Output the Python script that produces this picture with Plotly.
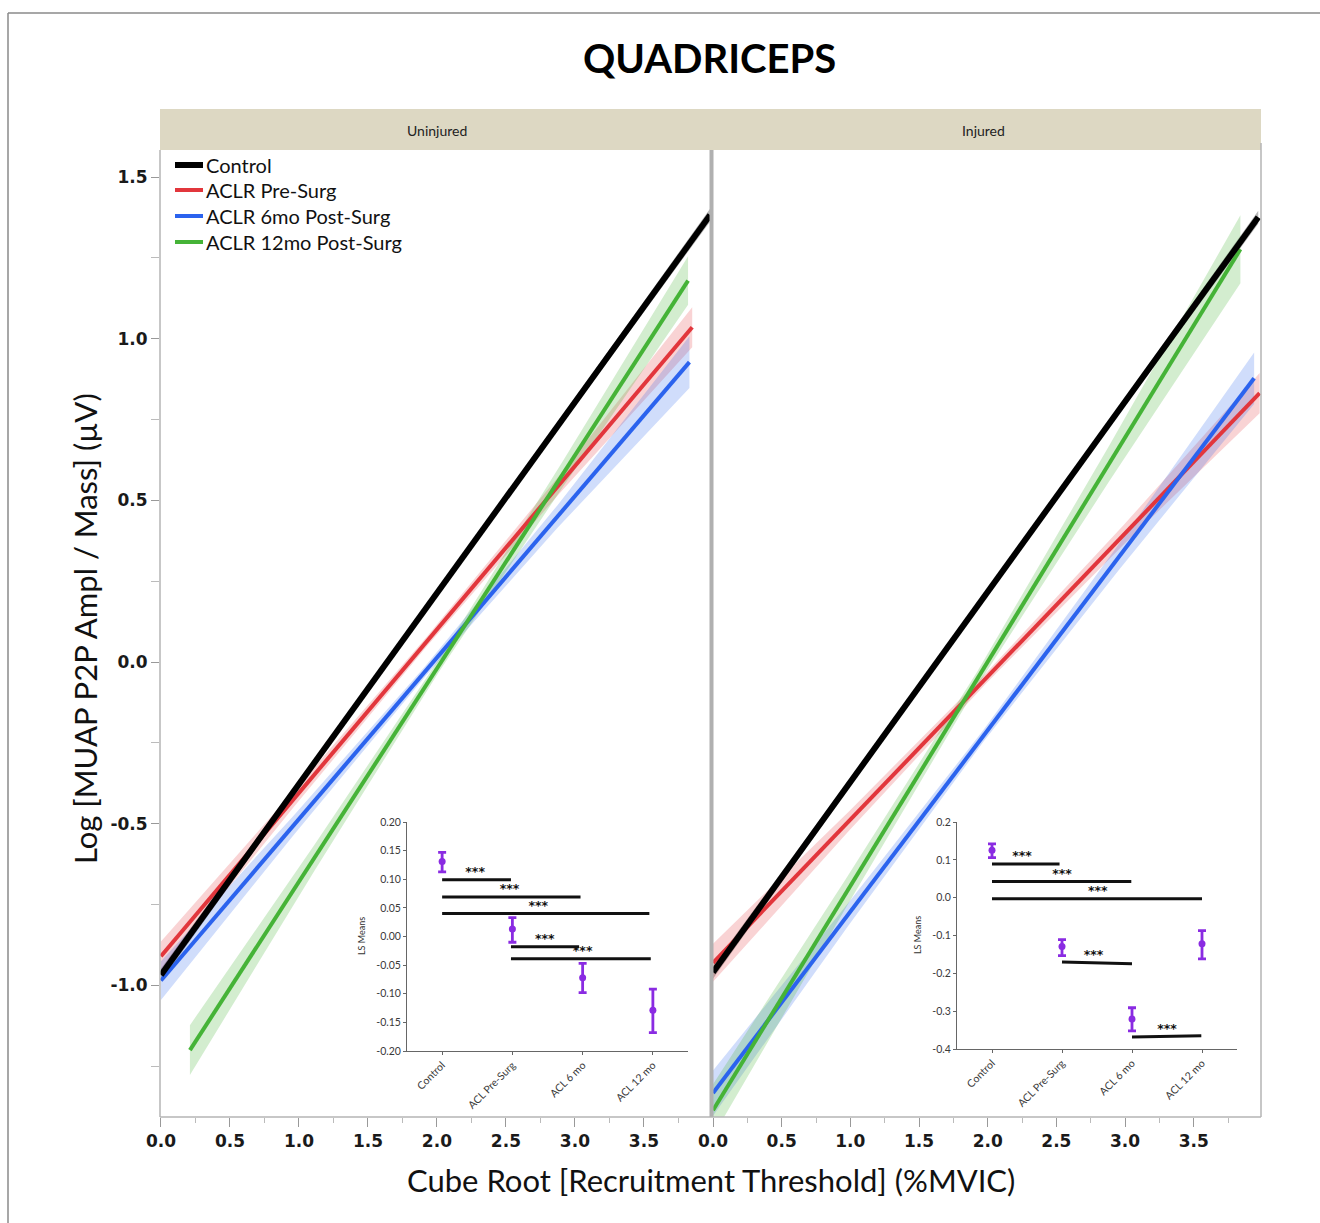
import plotly.graph_objects as go
import numpy as np

W, H = 1320, 1223

# ---------------- data ----------------
groups = ["Control", "ACLR Pre-Surg", "ACLR 6mo Post-Surg", "ACLR 12mo Post-Surg"]
line_colors = ["#000000", "#e2363c", "#2b63ee", "#45b337"]
band_colors = ["rgba(0,0,0,0.28)", "rgba(226,54,60,0.22)", "rgba(43,99,238,0.22)", "rgba(69,179,55,0.24)"]
line_widths = [6, 4, 4, 4]

# Uninjured panel fitted lines (x start/end, y start/end)
unj_x0 = [0.0, 0.0, 0.0, 0.21]
unj_x1 = [3.98, 3.85, 3.83, 3.82]
unj_y0 = [-0.968, -0.910, -0.985, -1.200]
unj_y1 = [1.383, 1.036, 0.928, 1.180]
# confidence band half-widths at 0, 25, 50, 75, 100 % of the line
unj_hw = [[0.020, 0.013, 0.011, 0.013, 0.020],
          [0.046, 0.025, 0.015, 0.028, 0.062],
          [0.060, 0.030, 0.016, 0.035, 0.080],
          [0.077, 0.040, 0.020, 0.040, 0.075]]

# Injured panel fitted lines
inj_x0 = [0.0, 0.0, 0.0, 0.0]
inj_x1 = [3.97, 3.98, 3.94, 3.84]
inj_y0 = [-0.959, -0.930, -1.333, -1.386]
inj_y1 = [1.376, 0.832, 0.878, 1.277]
inj_hw = [[0.020, 0.013, 0.011, 0.013, 0.020],
          [0.059, 0.030, 0.016, 0.030, 0.062],
          [0.070, 0.035, 0.018, 0.040, 0.080],
          [0.080, 0.045, 0.022, 0.055, 0.105]]

# LS-means insets
inset_cats = ["Control", "ACL Pre-Surg", "ACL 6 mo", "ACL 12 mo"]
unj_ls_mean = [0.131, 0.013, -0.072, -0.129]
unj_ls_hi = [0.147, 0.033, -0.047, -0.092]
unj_ls_lo = [0.113, -0.010, -0.098, -0.168]
inj_ls_mean = [0.125, -0.129, -0.321, -0.122]
inj_ls_hi = [0.142, -0.111, -0.291, -0.087]
inj_ls_lo = [0.106, -0.153, -0.352, -0.162]

# significance bars: x0, x1, y0, y1, star x, star y
unj_sig_x0 = [0.0, 0.0, 0.0, 0.98, 0.98]
unj_sig_x1 = [0.98, 1.97, 2.95, 1.95, 2.97]
unj_sig_y0 = [0.099, 0.069, 0.040, -0.018, -0.039]
unj_sig_y1 = [0.099, 0.069, 0.040, -0.018, -0.039]
unj_star_x = [0.47, 0.96, 1.37, 1.46, 2.00]
unj_star_y = [0.111, 0.081, 0.052, -0.006, -0.027]

inj_sig_x0 = [0.0, 0.0, 0.0, 1.0, 2.0]
inj_sig_x1 = [0.965, 1.99, 3.0, 2.0, 2.99]
inj_sig_y0 = [0.089, 0.043, -0.003, -0.170, -0.368]
inj_sig_y1 = [0.089, 0.043, -0.003, -0.175, -0.365]
inj_star_x = [0.43, 1.00, 1.51, 1.45, 2.50]
inj_star_y = [0.107, 0.061, 0.015, -0.154, -0.349]

main_yticks = [-1.0, -0.5, 0.0, 0.5, 1.0, 1.5]
main_xticks = [0.0, 0.5, 1.0, 1.5, 2.0, 2.5, 3.0, 3.5]
unj_inset_yticks = [-0.20, -0.15, -0.10, -0.05, 0.00, 0.05, 0.10, 0.15, 0.20]
inj_inset_yticks = [-0.4, -0.3, -0.2, -0.1, 0.0, 0.1, 0.2]

# ---------------- figure ----------------
fig = go.Figure()

def px_x(p):
    return p / W

def px_y(p):
    return 1 - p / H

fracs = np.array([0.0, 0.25, 0.5, 0.75, 1.0])

def add_panel(xs0, xs1, ys0, ys1, hws, xa, ya):
    for i in range(len(groups)):
        bx = xs0[i] + (xs1[i] - xs0[i]) * fracs
        by = ys0[i] + (ys1[i] - ys0[i]) * fracs
        hw = np.array(hws[i])
        fig.add_trace(go.Scatter(
            x=np.concatenate([bx, bx[::-1]]),
            y=np.concatenate([by + hw, (by - hw)[::-1]]),
            fill="toself", fillcolor=band_colors[i], line=dict(width=0),
            mode="lines", hoverinfo="skip", showlegend=False,
            xaxis=xa, yaxis=ya))
    for i in [1, 2, 3, 0]:
        fig.add_trace(go.Scatter(
            x=[xs0[i], xs1[i]], y=[ys0[i], ys1[i]], mode="lines",
            line=dict(color=line_colors[i], width=line_widths[i]),
            name=groups[i], showlegend=False,
            xaxis=xa, yaxis=ya))

add_panel(unj_x0, unj_x1, unj_y0, unj_y1, unj_hw, "x", "y")
add_panel(inj_x0, inj_x1, inj_y0, inj_y1, inj_hw, "x2", "y2")

purple = "#8a2be2"

def add_inset(mean, hi, lo, sx0, sx1, sy0, sy1, stx, sty, xa, ya):
    xs = list(range(len(inset_cats)))
    for j in range(len(sx0)):
        fig.add_trace(go.Scatter(x=[sx0[j], sx1[j]], y=[sy0[j], sy1[j]], mode="lines",
                                 line=dict(color="#111", width=3), showlegend=False,
                                 hoverinfo="skip", xaxis=xa, yaxis=ya))
    fig.add_trace(go.Scatter(x=stx, y=sty, mode="text", text=["***"] * len(stx),
                             textfont=dict(family="DejaVu Sans", size=12.5, color="#111", weight="bold"),
                             showlegend=False, hoverinfo="skip", xaxis=xa, yaxis=ya))
    fig.add_trace(go.Scatter(
        x=xs, y=mean, mode="markers",
        marker=dict(color=purple, size=7),
        error_y=dict(type="data", symmetric=False,
                     array=[h - m for h, m in zip(hi, mean)],
                     arrayminus=[m - l for m, l in zip(mean, lo)],
                     color=purple, thickness=2.8, width=4),
        showlegend=False, xaxis=xa, yaxis=ya))

add_inset(unj_ls_mean, unj_ls_hi, unj_ls_lo, unj_sig_x0, unj_sig_x1, unj_sig_y0, unj_sig_y1,
          unj_star_x, unj_star_y, "x3", "y3")
add_inset(inj_ls_mean, inj_ls_hi, inj_ls_lo, inj_sig_x0, inj_sig_x1, inj_sig_y0, inj_sig_y1,
          inj_star_x, inj_star_y, "x4", "y4")

tick_font = dict(family="DejaVu Sans", size=17, color="#1a1a1a", weight="bold")
axis_gray = "#b4b4b4"

main_y_common = dict(range=[-1.407, 1.584], showgrid=False, zeroline=False,
                     domain=[px_y(1117), px_y(150)], tickvals=main_yticks,
                     showline=False, automargin=False)
main_x_common = dict(showgrid=False, zeroline=False, tickvals=main_xticks,
                     ticktext=[f"{v:.1f}" for v in main_xticks],
                     ticks="outside", ticklen=9, tickcolor="#999",
                     minor=dict(dtick=0.25, tick0=0, ticks="outside", ticklen=5, tickcolor="#bbb"),
                     tickfont=tick_font, showline=False, automargin=False)

inset_tick_font = dict(family="Lato", size=10.5, color="#3a3a3a")
inset_common = dict(showline=True, linecolor="#666", linewidth=1, ticks="outside", ticklen=3,
                    tickcolor="#666", showgrid=False, zeroline=False, tickfont=inset_tick_font,
                    automargin=False)

fig.update_layout(
    width=W, height=H,
    margin=dict(l=0, r=0, t=0, b=0, autoexpand=False),
    paper_bgcolor="white", plot_bgcolor="rgba(0,0,0,0)",
    showlegend=False,
    xaxis=dict(domain=[px_x(160), px_x(710)], range=[-0.007, 3.979], anchor="y", **main_x_common),
    yaxis=dict(anchor="x", tickfont=tick_font, ticktext=[f"{v:.1f}" for v in main_yticks],
               ticks="outside", ticklen=8, tickcolor="#999",
               minor=dict(dtick=0.25, tick0=0, ticks="outside", ticklen=8, tickcolor="#bbb"),
               **main_y_common),
    xaxis2=dict(domain=[px_x(713), px_x(1261)], range=[0, 3.99], anchor="y2", **main_x_common),
    yaxis2=dict(anchor="x2", showticklabels=False, ticks="", **main_y_common),
    xaxis3=dict(domain=[px_x(407), px_x(688)], range=[-0.5, 3.5], anchor="y3",
                tickvals=[0, 1, 2, 3], ticktext=inset_cats, tickangle=-45, **inset_common),
    yaxis3=dict(domain=[px_y(1051), px_y(822)], range=[-0.20, 0.20], anchor="x3",
                tickvals=unj_inset_yticks, ticktext=[f"{v:.2f}" for v in unj_inset_yticks],
                **inset_common),
    xaxis4=dict(domain=[px_x(957), px_x(1237)], range=[-0.5, 3.5], anchor="y4",
                tickvals=[0, 1, 2, 3], ticktext=inset_cats, tickangle=-45, **inset_common),
    yaxis4=dict(domain=[px_y(1049), px_y(822)], range=[-0.40, 0.20], anchor="x4",
                tickvals=inj_inset_yticks, ticktext=[f"{v:.1f}" for v in inj_inset_yticks],
                **inset_common),
)

shapes = [
    # outer frame
    dict(type="line", xref="paper", yref="paper", x0=px_x(8), x1=1, y0=px_y(13), y1=px_y(13),
         line=dict(color="#8a8a8a", width=1.5)),
    dict(type="line", xref="paper", yref="paper", x0=px_x(8), x1=px_x(8), y0=px_y(13), y1=0,
         line=dict(color="#8a8a8a", width=1.5)),
    # strip header
    dict(type="rect", xref="paper", yref="paper", x0=px_x(160), x1=px_x(1261), y0=px_y(150), y1=px_y(109),
         fillcolor="#ddd8c3", line=dict(width=0), layer="below"),
    # panel borders
    dict(type="line", xref="paper", yref="paper", x0=px_x(160), x1=px_x(160), y0=px_y(1117), y1=px_y(150),
         line=dict(color=axis_gray, width=1.5)),
    dict(type="line", xref="paper", yref="paper", x0=px_x(160), x1=px_x(1261), y0=px_y(1117), y1=px_y(1117),
         line=dict(color=axis_gray, width=1.5)),
    dict(type="line", xref="paper", yref="paper", x0=px_x(711.5), x1=px_x(711.5), y0=px_y(1117), y1=px_y(150),
         line=dict(color="#b0b0b0", width=4)),
    dict(type="line", xref="paper", yref="paper", x0=px_x(1261), x1=px_x(1261), y0=px_y(1117), y1=px_y(143),
         line=dict(color=axis_gray, width=1.5)),
]

annotations = [
    dict(text="<b>QUADRICEPS</b>", x=px_x(709), y=px_y(58),
         font=dict(family="Lato", size=40, color="#000")),
    dict(text="Uninjured", x=px_x(437), y=px_y(130),
         font=dict(family="Lato", size=14, color="#222")),
    dict(text="Injured", x=px_x(983), y=px_y(130),
         font=dict(family="Lato", size=14, color="#222")),
    dict(text="Cube Root [Recruitment Threshold] (%MVIC)", x=px_x(711), y=px_y(1180),
         font=dict(family="Lato", size=31, color="#111")),
    dict(text="Log [MUAP P2P Ampl / Mass] (µV)", x=px_x(85), y=px_y(629),
         textangle=-90, font=dict(family="Lato", size=31, color="#111")),
    dict(text="LS Means", x=px_x(361), y=px_y(936),
         textangle=-90, font=dict(family="Lato", size=9, color="#333")),
    dict(text="LS Means", x=px_x(917), y=px_y(935),
         textangle=-90, font=dict(family="Lato", size=9, color="#333")),
]
for a in annotations:
    a.update(xref="paper", yref="paper", showarrow=False, xanchor="center", yanchor="middle")

# manual legend (top-left of the Uninjured panel)
leg_y = [165, 190, 216, 242]
for i in range(len(groups)):
    shapes.append(dict(type="line", xref="paper", yref="paper", x0=px_x(175), x1=px_x(203),
                       y0=px_y(leg_y[i]), y1=px_y(leg_y[i]),
                       line=dict(color=line_colors[i], width=line_widths[i])))
    annotations.append(dict(text=groups[i], x=px_x(204), y=px_y(leg_y[i]), xref="paper", yref="paper",
                            showarrow=False, xanchor="left", yanchor="middle",
                            font=dict(family="Lato", size=20, color="#111")))

fig.update_layout(shapes=shapes, annotations=annotations)

fig.write_html("out.html")
